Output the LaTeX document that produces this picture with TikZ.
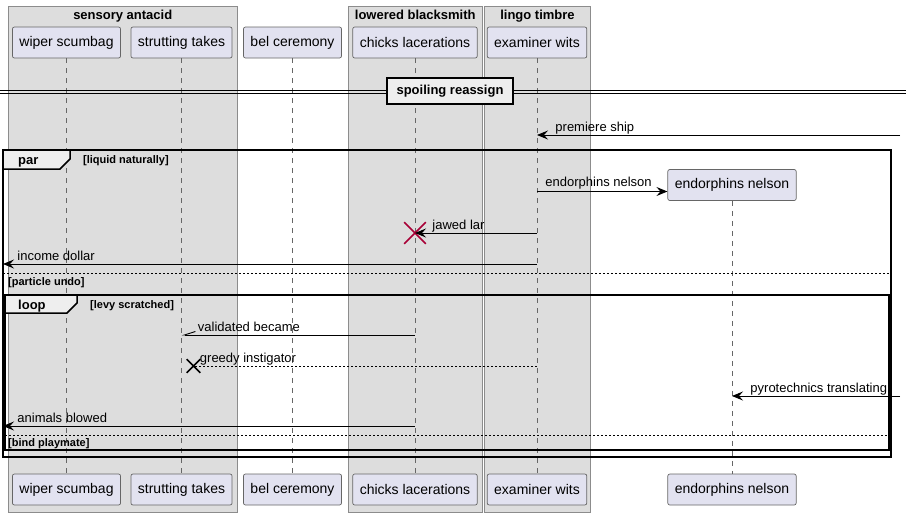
\documentclass[tikz,border=0pt]{standalone}
\usepackage{fontspec}
\setmainfont{Liberation Sans}
\usetikzlibrary{arrows.meta,shapes.misc}

\definecolor{partfill}{HTML}{E2E2F0}
\definecolor{boxfill}{HTML}{DDDDDD}
\definecolor{tabfill}{HTML}{EEEEEE}
\definecolor{killred}{HTML}{A80036}

\tikzset{
  every participant/.style={draw=black!60, fill=partfill, rounded corners=2pt,
    line width=0.7pt, inner xsep=7pt, minimum height=31pt,
    font=\fontsize{14}{16}\selectfont},
  lifeline/.style={draw=black!60, line width=0.6pt, dash pattern=on 5pt off 5pt},
  msg/.style={line width=0.9pt, -{Stealth[length=11pt,width=9pt,inset=4pt]}},
  half msg/.style={line width=0.9pt, -{Straight Barb[harpoon,swap,length=11pt,width=7pt]}},
  reply/.style={line width=0.9pt, dash pattern=on 2pt off 2pt},
  msg label/.style={font=\fontsize{13}{15}\selectfont, anchor=base west, inner sep=0pt},
  group box/.style={draw=black!45, fill=boxfill, line width=0.8pt},
  group title/.style={font=\bfseries\fontsize{13}{15}\selectfont, anchor=base, inner sep=0pt},
  seq frame/.style={draw=black, line width=1.5pt},
  frame tab/.style={seq frame, fill=tabfill},
  frame name/.style={font=\bfseries\fontsize{13}{15}\selectfont, anchor=base west, inner sep=0pt},
  guard/.style={font=\bfseries\fontsize{11}{13}\selectfont, anchor=base west, inner sep=0pt},
  else line/.style={draw=black, line width=0.8pt, dash pattern=on 2pt off 2pt},
  kill/.style={cross out, line width=1.6pt, inner sep=0pt},
}

\begin{document}
\begin{tikzpicture}[x=1pt, y=-1pt]
  \useasboundingbox (0,0) rectangle (906,515);

  % boxes round the participants
  \draw[group box] (8,6) rectangle (237.5,512);
  \draw[group box] (348,6) rectangle (482.5,512);
  \draw[group box] (484.5,6) rectangle (590.5,512);
  \node[group title] (sensory-title) at (122.75,19) {sensory antacid};
  \node[group title] (lowered-title) at (415.25,19) {lowered blacksmith};
  \node[group title] (lingo-title) at (537.5,19) {lingo timbre};

  % participants and lifelines
  \foreach \p/\x/\t in {wiper/66.5/wiper scumbag, strutting/181.5/strutting takes,
      bel/292.5/bel ceremony, chicks/415/chicks lacerations, examiner/537/examiner wits} {
    \node[every participant] (\p-top) at (\x,42.5) {\t};
    \node[every participant] (\p-bot) at (\x,489.5) {\t};
  }
  \node[every participant] (endorphins-top) at (732,185) {endorphins nelson};
  \node[every participant] (endorphins-bot) at (732,489.5) {endorphins nelson};
  \foreach \p in {wiper, strutting, bel, chicks, examiner, endorphins}
    \draw[lifeline] (\p-top) -- (\p-bot);

  % divider
  \draw[line width=0.8pt] (0,90) -- (906,90) (0,93) -- (906,93);
  \node[seq frame, fill=tabfill, font=\bfseries\fontsize{13}{15}\selectfont,
    minimum width=126pt, minimum height=26pt] (spoiling) at (450,91) {spoiling reassign};

  % par and loop frames
  \draw[seq frame] (3,150) rectangle (891,457);
  \draw[frame tab] (3,150) -- (70,150) -- (70,159) -- (60,169) -- (3,169) -- cycle;
  \node[frame name] (par-name) at (18,164) {par};
  \node[guard] (par-guard) at (83,163) {[liquid naturally]};
  \draw[else line] (3,273) -- (891,273);
  \node[guard] (par-else) at (8,285) {[particle undo]};
  \draw[seq frame] (5,295) rectangle (889,450);
  \draw[frame tab] (5,295) -- (77,295) -- (77,303) -- (67,313) -- (5,313) -- cycle;
  \node[frame name] (loop-name) at (18,309) {loop};
  \node[guard] (loop-guard) at (90,308) {[levy scratched]};
  \draw[else line] (5,435) -- (889,435);
  \node[guard] (loop-else) at (8,446) {[bind playmate]};

  % messages
  \foreach \r/\y in {premiere/135, create/191.5, jawed/233, income/264,
      validated/335, greedy/366, pyro/396, animals/426}
    \coordinate (row-\r) at (0,\y);
  \coordinate (right-edge) at (900,0);
  \coordinate (left-edge) at (3,0);

  \draw[msg] (right-edge |- row-premiere) -- (examiner-top |- row-premiere)
    node[msg label, pos=1, xshift=18pt, yshift=4pt] {premiere ship};
  \draw[msg] (examiner-top |- row-create) -- (endorphins-top.west |- row-create)
    node[msg label, pos=0, xshift=8pt, yshift=5pt] {endorphins nelson};
  \node[kill, draw=killred, minimum size=20pt] (kill-chicks) at (chicks-top |- row-jawed) {};
  \draw[msg] (examiner-top |- row-jawed) -- (kill-chicks.center)
    node[msg label, pos=1, xshift=17pt, yshift=4pt] {jawed lar};
  \draw[msg] (examiner-top |- row-income) -- (left-edge |- row-income)
    node[msg label, pos=1, xshift=14pt, yshift=4pt] {income dollar};
  \draw[half msg] (chicks-top |- row-validated) -- (strutting-top |- row-validated)
    node[msg label, pos=1, xshift=16pt, yshift=4pt] {validated became};
  \node[kill, draw=black, minimum size=12pt, xshift=12pt] (kill-strutting)
    at (strutting-top |- row-greedy) {};
  \draw[reply] (examiner-top |- row-greedy) -- (kill-strutting.center)
    node[msg label, pos=1, xshift=6pt, yshift=4pt] {greedy instigator};
  \draw[msg] (right-edge |- row-pyro) -- (endorphins-top |- row-pyro)
    node[msg label, pos=1, xshift=18pt, yshift=4pt] {pyrotechnics translating};
  \draw[msg] (chicks-top |- row-animals) -- (left-edge |- row-animals)
    node[msg label, pos=1, xshift=14pt, yshift=4pt] {animals blowed};
\end{tikzpicture}
\end{document}
